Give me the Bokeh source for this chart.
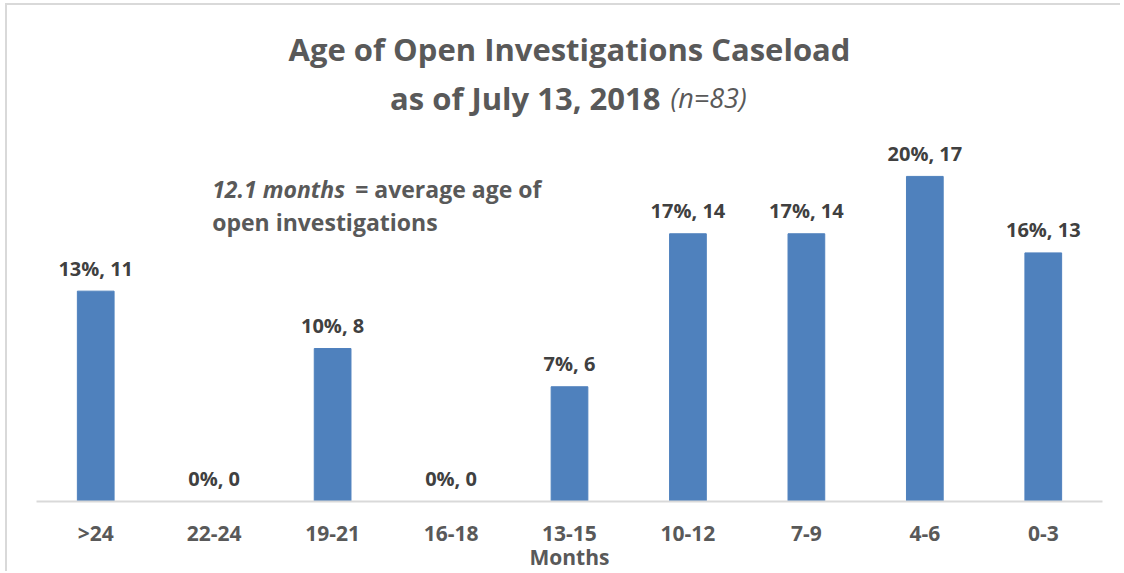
from bokeh.plotting import figure
from bokeh.models import Range1d, FixedTicker, ColumnDataSource
from bokeh.core.properties import value
from bokeh.embed import file_html
from bokeh.resources import INLINE

# ---- data ----
categories = [">24", "22-24", "19-21", "16-18", "13-15", "10-12", "7-9", "4-6", "0-3"]
counts = [11, 0, 8, 0, 6, 14, 14, 17, 13]
percents = [13, 0, 10, 0, 7, 17, 17, 20, 16]
title_line1 = "Age of Open Investigations Caseload"
title_line2 = "as of July 13, 2018"
title_note = "(n=83)"
note_italic = "12.1 months"
note_rest = "= average age of"
note_line2 = "open investigations"
x_label = "Months"

FONT = value("Open Sans")
GRAY = "#595959"
DARK = "#404040"
BLUE = "#4F81BD"

W, H = 1115, 568
frame_left = 29
frame_w = 1066
frame_h = 498
px_per_unit = 19.2

xs = list(range(len(categories)))
labels = [f"{p}%, {c}" for p, c in zip(percents, counts)]
src = ColumnDataSource(dict(x=xs, count=counts, label=labels))

p = figure(width=W, height=H, output_backend="svg", toolbar_location=None,
           x_range=Range1d(-0.5, len(categories) - 0.5),
           y_range=Range1d(0, frame_h / px_per_unit),
           y_axis_location=None, min_border_left=frame_left,
           min_border_right=W - frame_left - frame_w, min_border_top=0,
           min_border_bottom=H - frame_h,
           styles={"margin-left": "5px", "margin-top": "3px",
                   "border-left": "2px solid #d9d9d9",
                   "border-top": "2px solid #d9d9d9"})
p.outline_line_color = None
p.grid.visible = False
p.background_fill_color = "white"
p.border_fill_color = "white"

p.vbar(x="x", top="count", width=0.31, color=BLUE, source=src)
p.text(x="x", y="count", text="label", source=src, text_align="center",
       text_baseline="alphabetic", y_offset=-23, text_font=FONT,
       text_font_style="bold", text_font_size="20px", text_color=DARK)

ax = p.xaxis[0]
ax.ticker = FixedTicker(ticks=xs)
ax.major_label_overrides = {i: c for i, c in enumerate(categories)}
ax.bounds = (-0.5, len(categories) - 0.5)
ax.axis_line_color = "#d9d9d9"
ax.axis_line_width = 2
ax.major_tick_line_color = None
ax.minor_tick_line_color = None
ax.major_label_text_font = "Open Sans"
ax.major_label_text_font_style = "bold"
ax.major_label_text_font_size = "21px"
ax.major_label_text_color = GRAY
ax.major_label_standoff = 11
ax.axis_label = x_label
ax.axis_label_text_font = "Open Sans"
ax.axis_label_text_font_style = "bold"
ax.axis_label_text_font_size = "21px"
ax.axis_label_text_color = GRAY
ax.axis_label_standoff = -7

top = frame_h / px_per_unit
mid = (len(categories) - 1) / 2

# title
p.text(x=[mid], y=[top], text=[title_line1], text_align="center", text_baseline="alphabetic",
       y_offset=43, text_font=FONT, text_font_style="bold", text_font_size="31px", text_color=GRAY)
p.text(x=[mid], y=[top], text=[title_line2], text_align="right", text_baseline="alphabetic",
       x_offset=91, y_offset=92, text_font=FONT, text_font_style="bold", text_font_size="31px",
       text_color=GRAY)
p.text(x=[mid], y=[top], text=[title_note], text_align="left", text_baseline="alphabetic",
       x_offset=101, y_offset=92, text_font=FONT, text_font_style="italic", text_font_size="27px",
       text_color=GRAY)

# annotation
p.text(x=[1], y=[top], text=[note_italic], text_align="left", text_baseline="alphabetic",
       x_offset=-2, y_offset=183, text_font=FONT, text_font_style="bold italic",
       text_font_size="23px", text_color=GRAY)
p.text(x=[1], y=[top], text=[note_rest], text_align="left", text_baseline="alphabetic",
       x_offset=141, y_offset=183, text_font=FONT, text_font_style="bold",
       text_font_size="23px", text_color=GRAY)
p.text(x=[1], y=[top], text=[note_line2], text_align="left", text_baseline="alphabetic",
       x_offset=-2, y_offset=216, text_font=FONT, text_font_style="bold",
       text_font_size="23px", text_color=GRAY)

open("out.html", "w").write(file_html(p, INLINE))
